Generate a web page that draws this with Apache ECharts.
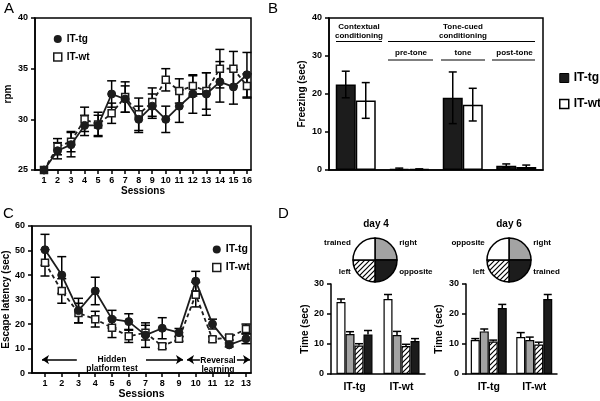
<!DOCTYPE html>
<html><head><meta charset="utf-8">
<script src="https://cdn.jsdelivr.net/npm/echarts@6/dist/echarts.min.js"></script>
<style>html,body{margin:0;padding:0;background:#fff}#c{width:600px;height:401px}</style>
</head><body><div id="c"></div>
<script>
// ---------- data ----------
const sessionsA = [1,2,3,4,5,6,7,8,9,10,11,12,13,14,15,16];
const aTg    = [25.0,26.9,27.5,29.4,29.4,32.5,32.0,30.0,31.3,30.0,31.3,32.5,32.5,33.7,33.2,34.4];
const aTgErr = [0,0.8,1.2,1.0,1.0,1.3,1.3,1.3,1.2,1.3,1.6,1.9,2.1,2.0,1.7,2.2];
const aWt    = [25.0,27.3,27.8,30.0,29.5,30.6,32.2,30.5,31.7,33.9,32.8,33.3,32.8,35.0,35.0,33.3];
const aWtErr = [0,0.8,1.0,1.2,1.2,1.0,1.5,1.6,1.4,1.1,1.2,1.0,1.8,1.9,1.7,1.2];

const bCategories = ['Contextual conditioning','pre-tone','tone','post-tone'];
const bTg    = [22.5,0.3,19.0,1.1];
const bTgErr = [3.5,0.2,6.8,0.5];
const bWt    = [18.3,0.2,17.2,0.8];
const bWtErr = [4.7,0.1,4.3,0.5];

const sessionsC = [1,2,3,4,5,6,7,8,9,10,11,12,13];
const cTg    = [50.3,40.0,25.5,33.5,22.0,21.0,15.5,18.3,16.5,37.5,20.0,11.5,14.0];
const cTgErr = [6.3,7.5,5.0,5.6,3.6,3.2,5.0,4.3,1.7,4.0,2.0,0.8,2.0];
const cWt    = [45.0,33.5,24.5,22.0,18.5,15.0,16.5,11.0,14.0,32.0,13.8,14.5,18.0];
const cWtErr = [5.4,5.0,4.0,3.2,4.0,2.5,3.0,1.0,1.0,5.0,1.0,1.0,2.0];

const dGroups = ['IT-tg','IT-wt'];
const day4Trained = [24.0,25.0],  day4TrainedErr = [1.0,1.5];
const day4Right   = [13.3,13.0],  day4RightErr   = [0.8,1.2];
const day4Left    = [9.5,9.3],    day4LeftErr    = [0.6,0.6];
const day4Opposite= [13.2,11.0],  day4OppositeErr= [1.3,0.8];
const day6Opposite= [11.3,12.3],  day6OppositeErr= [0.5,1.5];
const day6Right   = [14.2,11.3],  day6RightErr   = [0.8,1.0];
const day6Left    = [10.8,9.8],   day6LeftErr    = [0.5,0.8];
const day6Trained = [22.0,25.0],  day6TrainedErr = [1.2,1.5];

const pieDay4 = ['right','opposite','left','trained'];
const pieDay6 = ['right','trained','left','opposite'];
const quadrantShare = [1,1,1,1];

// ---------- styles ----------
const FONT = 'Liberation Sans, Arial, sans-serif';
const BLK = '#1c1c1c', GRAY = '#a3a3a3';
function hatch(){
  const s = 5, c = document.createElement('canvas');
  c.width = s; c.height = s;
  const g = c.getContext('2d');
  g.fillStyle = '#fff'; g.fillRect(0,0,s,s);
  g.strokeStyle = '#000'; g.lineWidth = 1.2;
  g.beginPath();
  g.moveTo(0,s); g.lineTo(s,0);
  g.moveTo(-1,1); g.lineTo(1,-1);
  g.moveTo(s-1,s+1); g.lineTo(s+1,s-1);
  g.stroke();
  return c;
}
const HATCH = {image: hatch(), repeat: 'repeat'};

function errBars(xi, yi, xs, ys, es, o){
  return {
    type:'custom', xAxisIndex:xi, yAxisIndex:yi, silent:true, z:o.z||2,
    data: ys.map((v,i)=>[xs[i], v, es[i]]),
    encode:{x:0,y:1},
    renderItem(params, api){
      const x=api.value(0), y=api.value(1), e=api.value(2);
      if(!e) return null;
      const top=api.coord([x,y+e]);
      const bot=api.coord([x,o.upOnly?y:y-e]);
      const cx=top[0]+(o.offset||0), cap=o.cap;
      const st={stroke:'#000', lineWidth:o.lw||1.5};
      const ch=[{type:'line',shape:{x1:cx,y1:top[1],x2:cx,y2:bot[1]},style:st},
                {type:'line',shape:{x1:cx-cap,y1:top[1],x2:cx+cap,y2:top[1]},style:st}];
      if(!o.upOnly) ch.push({type:'line',shape:{x1:cx-cap,y1:bot[1],x2:cx+cap,y2:bot[1]},style:st});
      return {type:'group',children:ch};
    }
  };
}
const pair = (xs, ys) => ys.map((v,i)=>[xs[i], v]);

const axisLine = {show:true, lineStyle:{color:'#000', width:1.5}};
const tick = {show:true, inside:false, length:4, lineStyle:{color:'#000', width:1.5}};
const lbl = {color:'#000', fontFamily:FONT, fontWeight:'bold', fontSize:9};
const nameStyle = {color:'#000', fontFamily:FONT, fontWeight:'bold', fontSize:10};
const border = {show:true, borderColor:'#000', borderWidth:1.5, backgroundColor:'transparent'};

function valY(gi, min, max, interval, name, gap){
  return {type:'value', gridIndex:gi, min, max, interval, splitLine:{show:false},
    axisLine, axisTick:tick, axisLabel:{...lbl, margin:7},
    name, nameLocation:'middle', nameGap:gap, nameTextStyle:nameStyle};
}

const lineTg = (xi, data) => ({type:'line', name: xi===0?'A_IT-tg':'C_IT-tg', xAxisIndex:xi, yAxisIndex:xi, data,
  symbol:'circle', symbolSize:8, z:4, itemStyle:{color:BLK, borderColor:BLK, borderWidth:1},
  lineStyle:{color:BLK, width:1.8, type:'solid'}, silent:true});
const lineWt = (xi, data) => ({type:'line', name: xi===0?'A_IT-wt':'C_IT-wt', xAxisIndex:xi, yAxisIndex:xi, data,
  symbol:'rect', symbolSize:7, z:3, itemStyle:{color:'#fff', borderColor:BLK, borderWidth:1.5},
  lineStyle:{color:BLK, width:1.8, type:[4,3]}, silent:true});

function dBar(gi, name, data, color){
  return {type:'bar', name, xAxisIndex:gi, yAxisIndex:gi, data, barWidth:9, barGap:'0%',
    itemStyle:{color, borderColor:'#000', borderWidth:1.2}, silent:true};
}
function pie(cx, names, title){
  const fills = [GRAY, BLK, HATCH, '#fff'];
  return {type:'pie', center:[cx, 260], radius:22, startAngle:90, clockwise:true, silent:true,
    avoidLabelOverlap:false,
    data: names.map((n,i)=>({name:n, value:quadrantShare[i], itemStyle:{color:fills[i]}})),
    itemStyle:{borderColor:'#000', borderWidth:1.5},
    label:{show:true, position:'outside', color:'#000', fontFamily:FONT, fontWeight:'bold', fontSize:8, distanceToLabelLine:3},
    labelLine:{show:false, length:8, length2:0},
    labelLayout:(p)=>({dy: (p.dataIndex===0||p.dataIndex===3) ? 4 : -9}),
    emphasis:{disabled:true}};
}

const legendText = {color:'#000', fontFamily:FONT, fontWeight:'bold', fontSize:10};
const fmt = n => n.slice(2);

const option = {
  animation:false,
  backgroundColor:'#fff',
  textStyle:{fontFamily:FONT},
  grid:[
    {left:35, top:18, width:216, height:152, ...border},
    {left:329, top:18, width:214, height:152, ...border},
    {left:32, top:226, width:219, height:153, ...border},
    {left:331, top:284, width:94, height:90},
    {left:466, top:284, width:91, height:90}
  ],
  xAxis:[
    {type:'value', gridIndex:0, min:0.335, max:16.3, splitLine:{show:false}, axisLine,
      axisTick:{...tick, customValues:sessionsA}, axisLabel:{...lbl, margin:6, customValues:sessionsA},
      name:'Sessions', nameLocation:'middle', nameGap:14, nameTextStyle:nameStyle},
    {type:'category', gridIndex:1, data:bCategories, axisLine, axisTick:{show:false}, axisLabel:{show:false}},
    {type:'value', gridIndex:2, min:0.224, max:13.3, splitLine:{show:false}, axisLine,
      axisTick:{...tick, customValues:sessionsC}, axisLabel:{...lbl, margin:6, customValues:sessionsC},
      name:'Sessions', nameLocation:'middle', nameGap:15, nameTextStyle:{...nameStyle, fontSize:10.5}},
    {type:'category', gridIndex:3, data:dGroups, axisLine, axisTick:{show:false},
      axisLabel:{...lbl, fontSize:10.5, margin:8}},
    {type:'category', gridIndex:4, data:dGroups, axisLine, axisTick:{show:false},
      axisLabel:{...lbl, fontSize:10.5, margin:8}}
  ],
  yAxis:[
    valY(0, 25, 40, 5, 'rpm', 22),
    valY(1, 0, 40, 10, 'Freezing (sec)', 22),
    valY(2, 0, 60, 10, 'Escape latency (sec)', 19),
    valY(3, 0, 30, 10, 'Time (sec)', 20),
    valY(4, 0, 30, 10, 'Time (sec)', 22)
  ],
  legend:[
    {orient:'vertical', left:48, top:29, itemWidth:8, itemHeight:8, itemGap:8, textStyle:legendText, formatter:fmt,
      selectedMode:false,
      data:[{name:'A_IT-tg', icon:'circle', itemStyle:{color:BLK, borderWidth:0}},
            {name:'A_IT-wt', icon:'rect', itemStyle:{color:'#fff', borderColor:BLK, borderWidth:1.5}}]},
    {orient:'vertical', left:554, top:67, itemWidth:9, itemHeight:9, itemGap:14, textStyle:{...legendText, fontSize:12}, formatter:fmt,
      selectedMode:false,
      data:[{name:'B_IT-tg', icon:'rect', itemStyle:{color:BLK, borderColor:'#000', borderWidth:1}},
            {name:'B_IT-wt', icon:'rect', itemStyle:{color:'#fff', borderColor:'#000', borderWidth:1.5}}]},
    {orient:'vertical', left:207, top:239, itemWidth:8, itemHeight:8, itemGap:7, textStyle:{...legendText, fontSize:10.5}, formatter:fmt,
      selectedMode:false,
      data:[{name:'C_IT-tg', icon:'circle', itemStyle:{color:BLK, borderWidth:0}},
            {name:'C_IT-wt', icon:'rect', itemStyle:{color:'#fff', borderColor:BLK, borderWidth:1.5}}]}
  ],
  series:[
    // A
    errBars(0,0,sessionsA,aWt,aWtErr,{cap:4.5}),
    errBars(0,0,sessionsA,aTg,aTgErr,{cap:4.5}),
    lineWt(0, pair(sessionsA,aWt)),
    lineTg(0, pair(sessionsA,aTg)),
    // B
    {type:'bar', name:'B_IT-tg', xAxisIndex:1, yAxisIndex:1, data:bTg, barWidth:20, barGap:'0%',
      itemStyle:{color:BLK, borderColor:'#000', borderWidth:1.5}, silent:true},
    {type:'bar', name:'B_IT-wt', xAxisIndex:1, yAxisIndex:1, data:bWt, barWidth:20, barGap:'0%',
      itemStyle:{color:'#fff', borderColor:'#000', borderWidth:1.5}, silent:true},
    errBars(1,1,[0,1,2,3],bTg,bTgErr,{cap:4, offset:-10, z:5}),
    errBars(1,1,[0,1,2,3],bWt,bWtErr,{cap:4, offset:10, z:5}),
    // C
    errBars(2,2,sessionsC,cWt,cWtErr,{cap:4.5}),
    errBars(2,2,sessionsC,cTg,cTgErr,{cap:4.5}),
    lineWt(2, pair(sessionsC,cWt)),
    lineTg(2, pair(sessionsC,cTg)),
    // D day 4
    dBar(3,'d4 trained',day4Trained,'#fff'),
    dBar(3,'d4 right',day4Right,GRAY),
    dBar(3,'d4 left',day4Left,HATCH),
    dBar(3,'d4 opposite',day4Opposite,BLK),
    errBars(3,3,[0,1],day4Trained,day4TrainedErr,{cap:4, offset:-13.5, upOnly:true, z:5}),
    errBars(3,3,[0,1],day4Right,day4RightErr,{cap:4, offset:-4.5, upOnly:true, z:5}),
    errBars(3,3,[0,1],day4Left,day4LeftErr,{cap:4, offset:4.5, upOnly:true, z:5}),
    errBars(3,3,[0,1],day4Opposite,day4OppositeErr,{cap:4, offset:13.5, upOnly:true, z:5}),
    // D day 6
    dBar(4,'d6 opposite',day6Opposite,'#fff'),
    dBar(4,'d6 right',day6Right,GRAY),
    dBar(4,'d6 left',day6Left,HATCH),
    dBar(4,'d6 trained',day6Trained,BLK),
    errBars(4,4,[0,1],day6Opposite,day6OppositeErr,{cap:4, offset:-13.5, upOnly:true, z:5}),
    errBars(4,4,[0,1],day6Right,day6RightErr,{cap:4, offset:-4.5, upOnly:true, z:5}),
    errBars(4,4,[0,1],day6Left,day6LeftErr,{cap:4, offset:4.5, upOnly:true, z:5}),
    errBars(4,4,[0,1],day6Trained,day6TrainedErr,{cap:4, offset:13.5, upOnly:true, z:5}),
    // pies
    pie(375, pieDay4),
    pie(509, pieDay6),
    // C arrows
    {type:'line', xAxisIndex:2, yAxisIndex:2, data:[], silent:true,
      markLine:{silent:true, symbol:['none','none'], symbolSize:[7,7], label:{show:false},
        lineStyle:{color:'#000', width:1.5, type:'solid'}, emphasis:{disabled:true},
        data:[
          [{coord:[0.82,5.5], symbol:'arrow'},{coord:[2.9,5.5], symbol:'none'}],
          [{coord:[7.03,5.5], symbol:'none'},{coord:[9.24,5.5], symbol:'arrow'}],
          [{coord:[9.48,5.5], symbol:'arrow'},{coord:[10.25,5.5], symbol:'none'}],
          [{coord:[12.46,5.5], symbol:'none'},{coord:[13.24,5.5], symbol:'arrow'}]
        ]}}
  ],
  graphic:[
    {type:'text', left:4, top:1, style:{text:'A', font:'15px '+FONT, fill:'#000'}},
    {type:'text', left:268, top:1, style:{text:'B', font:'15px '+FONT, fill:'#000'}},
    {type:'text', left:3, top:206, style:{text:'C', font:'15px '+FONT, fill:'#000'}},
    {type:'text', left:278, top:206, style:{text:'D', font:'15px '+FONT, fill:'#000'}},
    // B annotations
    {type:'text', x:359, y:26.5, style:{text:'Contextual', font:'bold 8px '+FONT, fill:'#000', textAlign:'center', textVerticalAlign:'middle'}},
    {type:'text', x:359, y:35.5, style:{text:'conditioning', font:'bold 8px '+FONT, fill:'#000', textAlign:'center', textVerticalAlign:'middle'}},
    {type:'line', shape:{x1:336, y1:41.5, x2:382, y2:41.5}, style:{stroke:'#000', lineWidth:1.2}},
    {type:'text', x:463, y:26.5, style:{text:'Tone-cued', font:'bold 8px '+FONT, fill:'#000', textAlign:'center', textVerticalAlign:'middle'}},
    {type:'text', x:463, y:35.5, style:{text:'conditioning', font:'bold 8px '+FONT, fill:'#000', textAlign:'center', textVerticalAlign:'middle'}},
    {type:'line', shape:{x1:388, y1:41.5, x2:535, y2:41.5}, style:{stroke:'#000', lineWidth:1.2}},
    {type:'text', x:411, y:53, style:{text:'pre-tone', font:'bold 8px '+FONT, fill:'#000', textAlign:'center', textVerticalAlign:'middle'}},
    {type:'line', shape:{x1:388, y1:60, x2:433, y2:60}, style:{stroke:'#000', lineWidth:1.2}},
    {type:'text', x:463, y:53, style:{text:'tone', font:'bold 8px '+FONT, fill:'#000', textAlign:'center', textVerticalAlign:'middle'}},
    {type:'line', shape:{x1:441, y1:60, x2:485, y2:60}, style:{stroke:'#000', lineWidth:1.2}},
    {type:'text', x:514.5, y:53, style:{text:'post-tone', font:'bold 8px '+FONT, fill:'#000', textAlign:'center', textVerticalAlign:'middle'}},
    {type:'line', shape:{x1:492, y1:60, x2:535, y2:60}, style:{stroke:'#000', lineWidth:1.2}},
    // C annotations
    {type:'text', x:112, y:360, style:{text:'Hidden', font:'bold 8.5px '+FONT, fill:'#000', textAlign:'center', textVerticalAlign:'middle'}},
    {type:'text', x:112, y:368.5, style:{text:'platform test', font:'bold 8.5px '+FONT, fill:'#000', textAlign:'center', textVerticalAlign:'middle'}},
    {type:'text', x:218, y:361, style:{text:'Reversal', font:'bold 8.5px '+FONT, fill:'#000', textAlign:'center', textVerticalAlign:'middle'}},
    {type:'text', x:218, y:369.5, style:{text:'learning', font:'bold 8.5px '+FONT, fill:'#000', textAlign:'center', textVerticalAlign:'middle'}},
    // D titles
    {type:'text', x:376, y:224, style:{text:'day 4', font:'bold 10px '+FONT, fill:'#000', textAlign:'center', textVerticalAlign:'middle'}},
    {type:'text', x:509, y:224, style:{text:'day 6', font:'bold 10px '+FONT, fill:'#000', textAlign:'center', textVerticalAlign:'middle'}}
  ]
};
const chart = echarts.init(document.getElementById('c'), null, {renderer:'canvas'});
chart.setOption(option);
</script></body></html>
